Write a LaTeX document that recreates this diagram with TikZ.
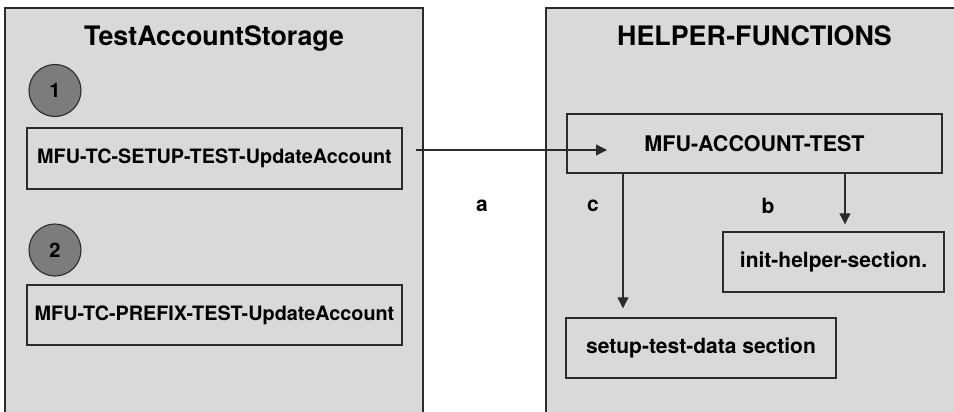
\documentclass[tikz,border=0pt]{standalone}
\usepackage{fontspec}
\setmainfont{TeX Gyre Heros}
\usetikzlibrary{arrows.meta}
\definecolor{panelfill}{HTML}{D9D9D9}
\definecolor{edge}{HTML}{2B2B2B}
\definecolor{bubble}{HTML}{7C7C7C}
\tikzset{
  panel/.style={draw=edge, line width=1.1pt, fill=panelfill},
  itembox/.style={draw=edge, line width=1.4pt, fill=panelfill, inner sep=0pt, font=\bfseries\fontsize{19.8}{23}\selectfont},
  paneltitle/.style={font=\bfseries\fontsize{26.8}{31}\selectfont, inner sep=0pt},
  stepmark/.style={circle, draw=edge, line width=1.1pt, fill=bubble, minimum size=52pt, inner sep=0pt, font=\bfseries\fontsize{20}{23}\selectfont},
  flow/.style={draw=edge, line width=1.1pt, -{Triangle[length=11pt,width=11pt]}},
  flowlabel/.style={font=\bfseries\fontsize{21}{24}\selectfont, inner sep=0pt}
}
\begin{document}
\begin{tikzpicture}[x=1pt, y=-1pt]
  \useasboundingbox (0,0) rectangle (954,412);
  \clip (0,0) rectangle (954,412);
  \fill[white] (0,0) rectangle (954,412);

  % two containers
  \draw[panel] (5,8) rectangle (423,420);
  \draw[panel] (546,8) rectangle (970,420);
  \node[paneltitle] (ltitle) at (214,38) {TestAccountStorage};
  \node[paneltitle] (rtitle) at (754.5,36) {HELPER-FUNCTIONS};

  % left side entries
  \node[stepmark] (one) at (55,90.5) {1};
  \node[itembox, minimum width=375pt, minimum height=61pt] (setupTC) at (214.5,158.5) {MFU-TC-SETUP-TEST-UpdateAccount};
  \node[stepmark] (two) at (55,250) {2};
  \node[itembox, minimum width=375pt, minimum height=60pt] (prefixTC) at (214.5,315) {MFU-TC-PREFIX-TEST-UpdateAccount};

  % right side entries
  \node[itembox, minimum width=375pt, minimum height=59pt, font=\bfseries\fontsize{21.5}{25}\selectfont] (acct) at (754.5,143.5) {MFU-ACCOUNT-TEST};
  \node[itembox, minimum width=221pt, minimum height=60pt, font=\bfseries\fontsize{21}{25}\selectfont] (inith) at (833.5,262) {init-helper-section.};
  \node[itembox, minimum width=270pt, minimum height=60pt, font=\bfseries\fontsize{21}{25}\selectfont] (setupd) at (701,348) {setup-test-data section};

  % connectors
  \coordinate (aStart) at (416,150);
  \coordinate (aEnd) at (607,150);
  \draw[flow] (aStart) -- (aEnd);
  \draw[flow] (acct.south -| 623,0) -- ([yshift=9pt]setupd.north -| 623,0);
  \draw[flow] (acct.south -| 845,0) -- ([yshift=7pt]inith.north -| 845,0);

  \node[flowlabel] (la) at (482,206) {a};
  \node[flowlabel] (lc) at (593,206) {c};
  \node[flowlabel] (lb) at (768,206) {b};
\end{tikzpicture}
\end{document}
